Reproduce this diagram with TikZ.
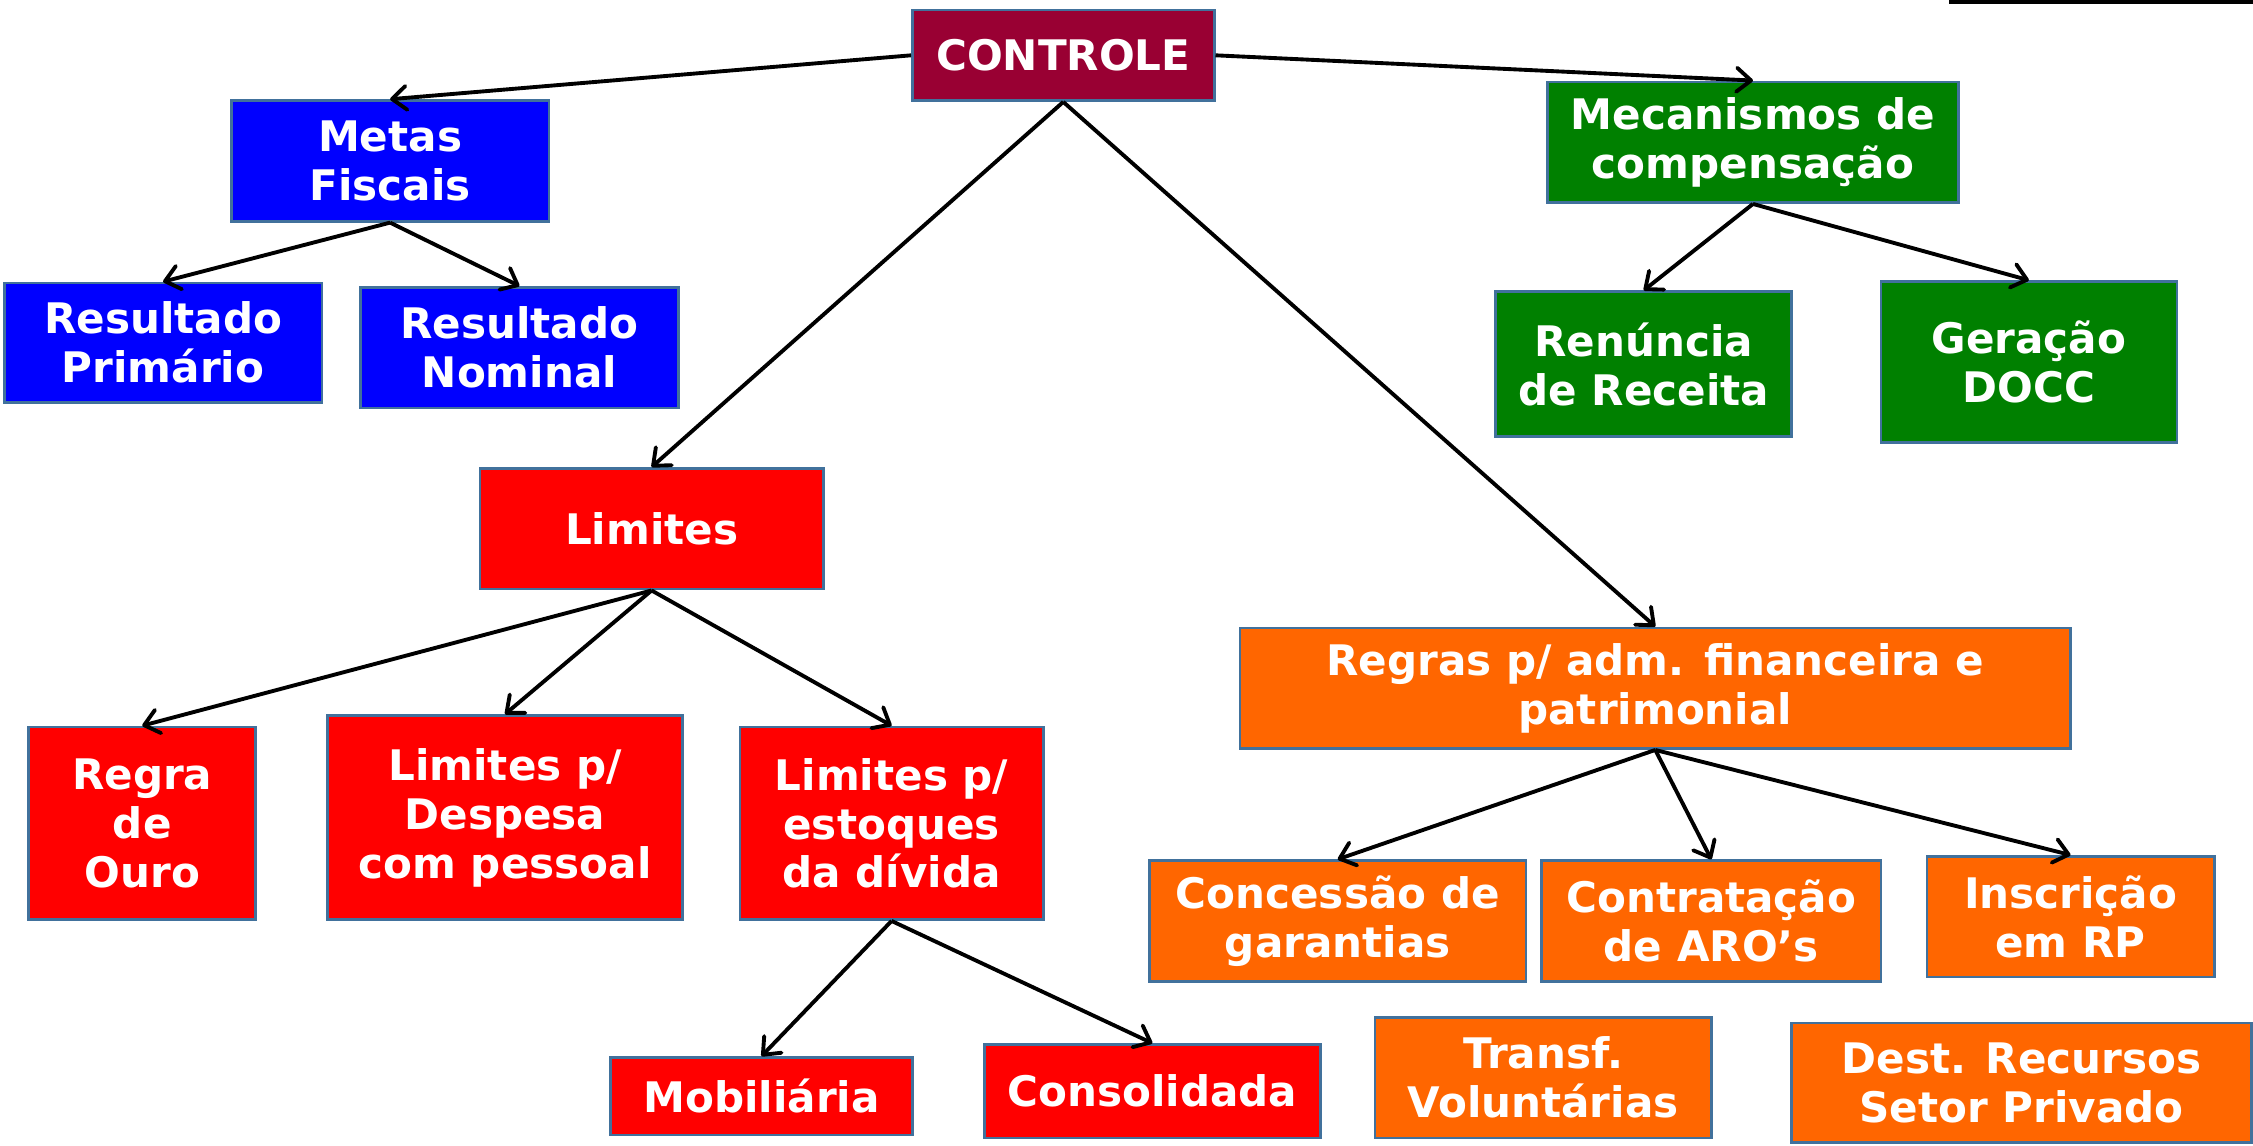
\documentclass[tikz,border=0pt]{standalone}
\usepackage{fontspec}
\setmainfont{DejaVu Sans}
\usetikzlibrary{arrows.meta}
\definecolor{cdark}{HTML}{990033}
\definecolor{cblue}{HTML}{0000FF}
\definecolor{cgreen}{HTML}{008000}
\definecolor{cred}{HTML}{FF0000}
\definecolor{corange}{HTML}{FF6600}
\definecolor{cborder}{HTML}{41719C}
\tikzset{
  bx/.style={draw=cborder, line width=1.6pt, text=white, align=center, inner sep=0pt,
    font=\fontsize{25}{29}\selectfont\bfseries},
  con/.style={line width=2.3pt, -{Straight Barb[length=0.3cm,width=0.5cm,line width=2.3pt,round]}},
}
\begin{document}
\begin{tikzpicture}
\useasboundingbox (0,0) rectangle (47.04,-23.91);
\fill[white] (0,0) rectangle (47.04,-23.91);
\draw[line width=2.5pt] (40.7,-0.03) -- (47.04,-0.03);

\node[bx, fill=cdark, minimum width=6.3cm, minimum height=1.89cm] (ctrl) at (22.2,-1.155) {CONTROLE};
\node[bx, fill=cblue, minimum width=6.63cm, minimum height=2.52cm] (metas) at (8.145,-3.36) {Metas\\Fiscais};
\node[bx, fill=cblue, minimum width=6.63cm, minimum height=2.49cm] (rprim) at (3.405,-7.155) {Resultado\\Primário};
\node[bx, fill=cblue, minimum width=6.63cm, minimum height=2.52cm] (rnom) at (10.845,-7.26) {Resultado\\Nominal};
\node[bx, fill=cgreen, minimum width=8.58cm, minimum height=2.52cm] (mec) at (36.6,-2.97) {Mecanismos de\\compensação};
\node[bx, fill=cgreen, minimum width=6.18cm, minimum height=3.03cm] (ren) at (34.32,-7.605) {Renúncia\\de Receita};
\node[bx, fill=cgreen, minimum width=6.18cm, minimum height=3.36cm] (ger) at (42.36,-7.56) {Geração\\DOCC};
\node[bx, fill=cred, minimum width=7.17cm, minimum height=2.52cm] (lim) at (13.605,-11.04) {Limites};
\node[bx, fill=cred, minimum width=4.74cm, minimum height=4.02cm] (ouro) at (2.97,-17.19) {Regra\\de\\Ouro};
\node[bx, fill=cred, minimum width=7.41cm, minimum height=4.26cm] (desp) at (10.545,-17.07) {Limites p/\\Despesa\\com pessoal};
\node[bx, fill=cred, minimum width=6.33cm, minimum height=4.02cm] (estq) at (18.615,-17.19) {Limites p/\\estoques\\da dívida};
\node[bx, fill=cred, minimum width=6.3cm, minimum height=1.62cm] (mob) at (15.9,-22.89) {Mobiliária};
\node[bx, fill=cred, minimum width=7.02cm, minimum height=1.95cm] (cons) at (24.06,-22.785) {Consolidada};
\node[bx, fill=corange, minimum width=17.34cm, minimum height=2.52cm] (regras) at (34.56,-14.37) {Regras p/ adm. financeira e\\patrimonial};
\node[bx, fill=corange, minimum width=7.86cm, minimum height=2.52cm] (conc) at (27.93,-19.23) {Concessão de\\garantias};
\node[bx, fill=corange, minimum width=7.08cm, minimum height=2.52cm] (contr) at (35.73,-19.23) {Contratação\\de ARO’s};
\node[bx, fill=corange, minimum width=6.0cm, minimum height=2.52cm] (insc) at (43.23,-19.14) {Inscrição\\em RP};
\node[bx, fill=corange, minimum width=7.02cm, minimum height=2.52cm] (transf) at (32.22,-22.5) {Transf.\\Voluntárias};
\node[bx, fill=corange, minimum width=9.6cm, minimum height=2.49cm] (dest) at (42.21,-22.605) {Dest. Recursos\\Setor Privado};

\draw[con] (ctrl.west) -- (metas.north);
\draw[con] (ctrl.east) -- (mec.north);
\draw[con] (ctrl.south) -- (lim.north);
\draw[con] (ctrl.south) -- (regras.north);
\draw[con] (metas.south) -- (rprim.north);
\draw[con] (metas.south) -- (rnom.north);
\draw[con] (mec.south) -- (ren.north);
\draw[con] (mec.south) -- (ger.north);
\draw[con] (lim.south) -- (ouro.north);
\draw[con] (lim.south) -- (desp.north);
\draw[con] (lim.south) -- (estq.north);
\draw[con] (estq.south) -- (mob.north);
\draw[con] (estq.south) -- (cons.north);
\draw[con] (regras.south) -- (conc.north);
\draw[con] (regras.south) -- (contr.north);
\draw[con] (regras.south) -- (insc.north);
\end{tikzpicture}
\end{document}
